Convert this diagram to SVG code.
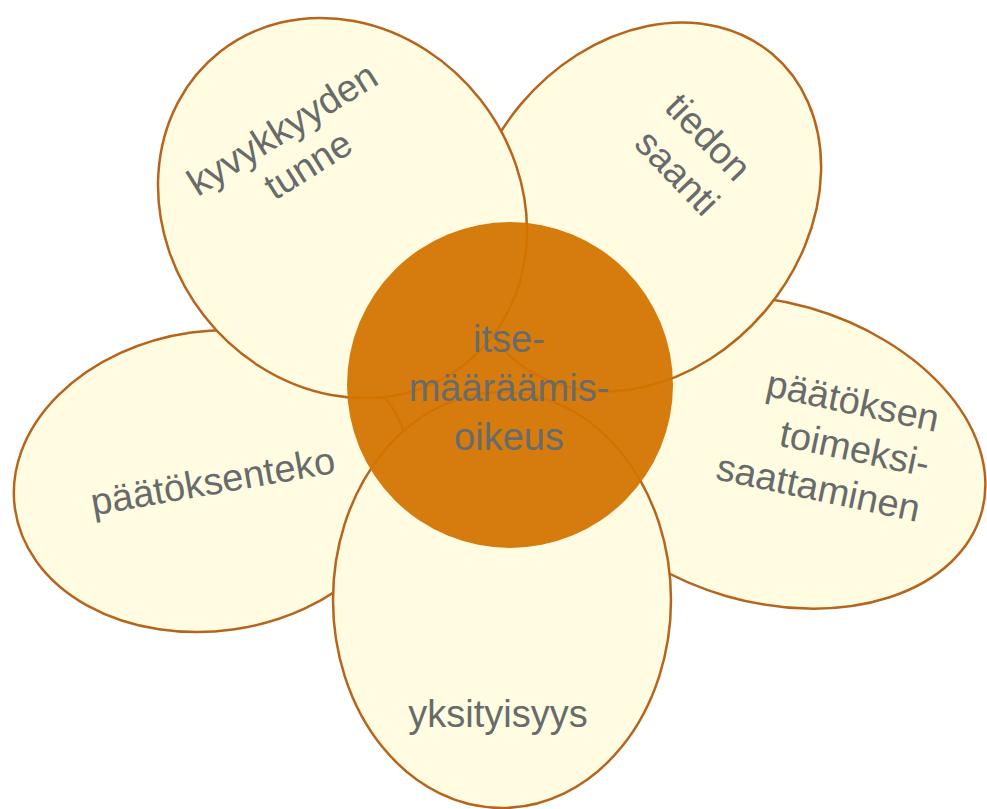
<svg xmlns="http://www.w3.org/2000/svg" width="987" height="809" viewBox="0 0 987 809">
  <style>
    .petal { fill: #FFFCE2; stroke: #B5651D; stroke-width: 2.5; }
    .core { fill: #D37400; fill-opacity: 0.94; }
    .lbl { font-family: "Liberation Sans", Arial, sans-serif; font-size: 38px; fill: #686B6B; }
  </style>
  <rect width="987" height="809" fill="#FFFFFF"/>
  <g id="petal-left">
    <ellipse class="petal" cx="212" cy="481" rx="199" ry="150" transform="rotate(-8 212 481)"/>
    <text class="lbl" text-anchor="middle" transform="translate(215 494) rotate(-10)">päätöksenteko</text>
  </g>
  <g id="petal-right">
    <ellipse class="petal" cx="768" cy="452" rx="222" ry="150" transform="rotate(16 768 452)"/>
    <g transform="translate(936 432) rotate(12)">
      <text class="lbl" text-anchor="end" x="0" y="0">päätöksen</text>
      <text class="lbl" text-anchor="end" x="0" y="46">toimeksi-</text>
      <text class="lbl" text-anchor="end" x="0" y="92">saattaminen</text>
    </g>
  </g>
  <g id="petal-top-right">
    <ellipse class="petal" cx="643.5" cy="207" rx="200" ry="160" transform="rotate(-50 643.5 207)"/>
    <g transform="translate(699 146) rotate(46)">
      <text class="lbl" text-anchor="middle" x="0" y="0">tiedon</text>
      <text class="lbl" text-anchor="middle" x="4" y="47">saanti</text>
    </g>
  </g>
  <g id="petal-top-left">
    <ellipse class="petal" cx="342.5" cy="208" rx="198.5" ry="175.4" transform="rotate(52 342.5 208)"/>
    <g transform="translate(289 140) rotate(-32)">
      <text class="lbl" text-anchor="middle" x="0" y="0">kyvykkyyden</text>
      <text class="lbl" text-anchor="middle" x="3" y="44">tunne</text>
    </g>
  </g>
  <g id="petal-bottom">
    <ellipse class="petal" cx="502" cy="600" rx="169" ry="208"/>
    <text class="lbl" text-anchor="middle" x="498" y="727">yksityisyys</text>
  </g>
  <g id="center">
    <circle class="core" cx="510" cy="385" r="163"/>
    <text class="lbl" text-anchor="middle" x="509" y="352">itse-</text>
    <text class="lbl" text-anchor="middle" x="509" y="401">määräämis-</text>
    <text class="lbl" text-anchor="middle" x="509" y="450">oikeus</text>
  </g>
  <g id="connectors"/>
</svg>
